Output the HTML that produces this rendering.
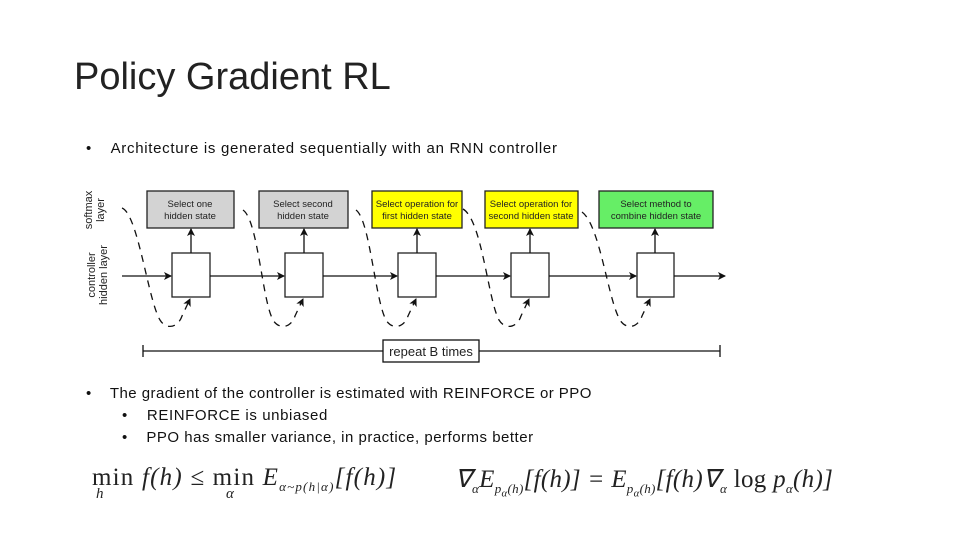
<!DOCTYPE html>
<html><head><meta charset="utf-8"><style>
body{margin:0;width:960px;height:540px;background:#fff;overflow:hidden;position:relative;font-family:"Liberation Sans",sans-serif}
.t{position:absolute;left:74px;top:56px;font-size:38px;color:#222;font-family:"Liberation Sans",sans-serif;font-weight:300}
.b{position:absolute;font-size:15px;color:#111;white-space:nowrap;letter-spacing:0.6px}
.m{position:absolute;font-family:"Liberation Serif",serif;font-style:italic;font-size:25px;color:#222;white-space:nowrap;letter-spacing:1px}
</style></head><body>
<div class="t">Policy Gradient RL</div>
<div class="b" style="left:86px;top:140px;letter-spacing:0.7px">•&nbsp;&nbsp;&nbsp; Architecture is generated sequentially with an RNN controller</div>
<div class="b" style="left:86px;top:385px;letter-spacing:0.45px">•&nbsp;&nbsp;&nbsp; The gradient of the controller is estimated with REINFORCE or PPO</div>
<div class="b" style="left:122px;top:407px">•&nbsp;&nbsp;&nbsp; REINFORCE is unbiased</div>
<div class="b" style="left:122px;top:429px;letter-spacing:0.5px">•&nbsp;&nbsp;&nbsp; PPO has smaller variance, in practice, performs better</div>
<svg width="960" height="540" style="position:absolute;left:0;top:0" font-family="Liberation Sans,sans-serif">
<defs><marker id="a" markerWidth="8" markerHeight="8" refX="7" refY="4" orient="auto" markerUnits="userSpaceOnUse"><path d="M0,0 L8,4 L0,8 L2,4z" fill="#111"/></marker></defs>
<g font-size="11" fill="#222" text-anchor="middle">
<text transform="translate(92,210) rotate(-90)">softmax</text>
<text transform="translate(104,210) rotate(-90)">layer</text>
<text transform="translate(95,275) rotate(-90)">controller</text>
<text transform="translate(107,275) rotate(-90)">hidden layer</text>
</g>
<g stroke="#222" stroke-width="1.3">
<rect x="147" y="191" width="87" height="37" fill="#d3d3d3"/>
<rect x="259" y="191" width="89" height="37" fill="#d3d3d3"/>
<rect x="372" y="191" width="90" height="37" fill="#ffff00"/>
<rect x="485" y="191" width="93" height="37" fill="#ffff00"/>
<rect x="599" y="191" width="114" height="37" fill="#66ee66"/>
<rect x="172" y="253" width="38" height="44" fill="#fff"/>
<rect x="285" y="253" width="38" height="44" fill="#fff"/>
<rect x="398" y="253" width="38" height="44" fill="#fff"/>
<rect x="511" y="253" width="38" height="44" fill="#fff"/>
<rect x="637" y="253" width="37" height="44" fill="#fff"/>
</g>
<g font-size="9.5" fill="#222" text-anchor="middle">
<text x="190" y="207">Select one</text><text x="190" y="219">hidden state</text>
<text x="303" y="207">Select second</text><text x="303" y="219">hidden state</text>
<text x="417" y="207">Select operation for</text><text x="417" y="219">first hidden state</text>
<text x="531" y="207">Select operation for</text><text x="531" y="219">second hidden state</text>
<text x="656" y="207">Select method to</text><text x="656" y="219">combine hidden state</text>
</g>
<g stroke="#111" stroke-width="1.3" fill="none" marker-end="url(#a)">
<line x1="122" y1="276" x2="171" y2="276"/>
<line x1="210" y1="276" x2="284" y2="276"/>
<line x1="323" y1="276" x2="397" y2="276"/>
<line x1="436" y1="276" x2="510" y2="276"/>
<line x1="549" y1="276" x2="636" y2="276"/>
<line x1="674" y1="276" x2="725" y2="276"/>
<line x1="191" y1="253" x2="191" y2="229"/>
<line x1="304" y1="253" x2="304" y2="229"/>
<line x1="417" y1="253" x2="417" y2="229"/>
<line x1="530" y1="253" x2="530" y2="229"/>
<line x1="655" y1="253" x2="655" y2="229"/>
</g>
<g stroke="#111" stroke-width="1.3" fill="none" stroke-dasharray="7,6" marker-end="url(#a)">
<path d="M122,208 C138,214 148,300 160,320 C166,330 178,328 182,316 L190,299"/>
<path d="M243,210 C258,220 262,300 273,320 C279,330 291,328 295,316 L303,299"/>
<path d="M356,210 C370,220 375,300 386,320 C392,330 404,328 408,316 L416,299"/>
<path d="M463,209 C482,220 488,300 499,320 C505,330 517,328 521,316 L529,299"/>
<path d="M582,212 C600,225 608,300 620,320 C626,330 638,328 642,316 L650,299"/>
</g>
<g stroke="#111" stroke-width="1.3">
<line x1="143" y1="351" x2="720" y2="351"/>
<line x1="143" y1="345" x2="143" y2="357"/>
<line x1="720" y1="345" x2="720" y2="357"/>
<rect x="383" y="340" width="96" height="22" fill="#fff"/>
</g>
<text x="431" y="356" font-size="13" text-anchor="middle" fill="#222">repeat B times</text>
</svg>
<div class="m" style="left:92px;top:464px;letter-spacing:1.2px"><span style="font-style:normal">min</span> f(h) ≤ <span style="font-style:normal">min</span> E<sub style="font-size:13px">α~p(h|α)</sub>[f(h)]</div>
<div class="m" style="left:96px;top:486px;font-size:15px">h</div>
<div class="m" style="left:226px;top:486px;font-size:15px">α</div>
<div class="m" style="left:455px;top:464px;letter-spacing:0.3px">∇<sub style="font-size:13px">α</sub>E<sub style="font-size:13px">p<sub>α</sub>(h)</sub>[f(h)] = E<sub style="font-size:13px">p<sub>α</sub>(h)</sub>[f(h)∇<sub style="font-size:13px">α</sub> <span style="font-style:normal">log</span> p<sub style="font-size:13px">α</sub>(h)]</div>
</body></html>
